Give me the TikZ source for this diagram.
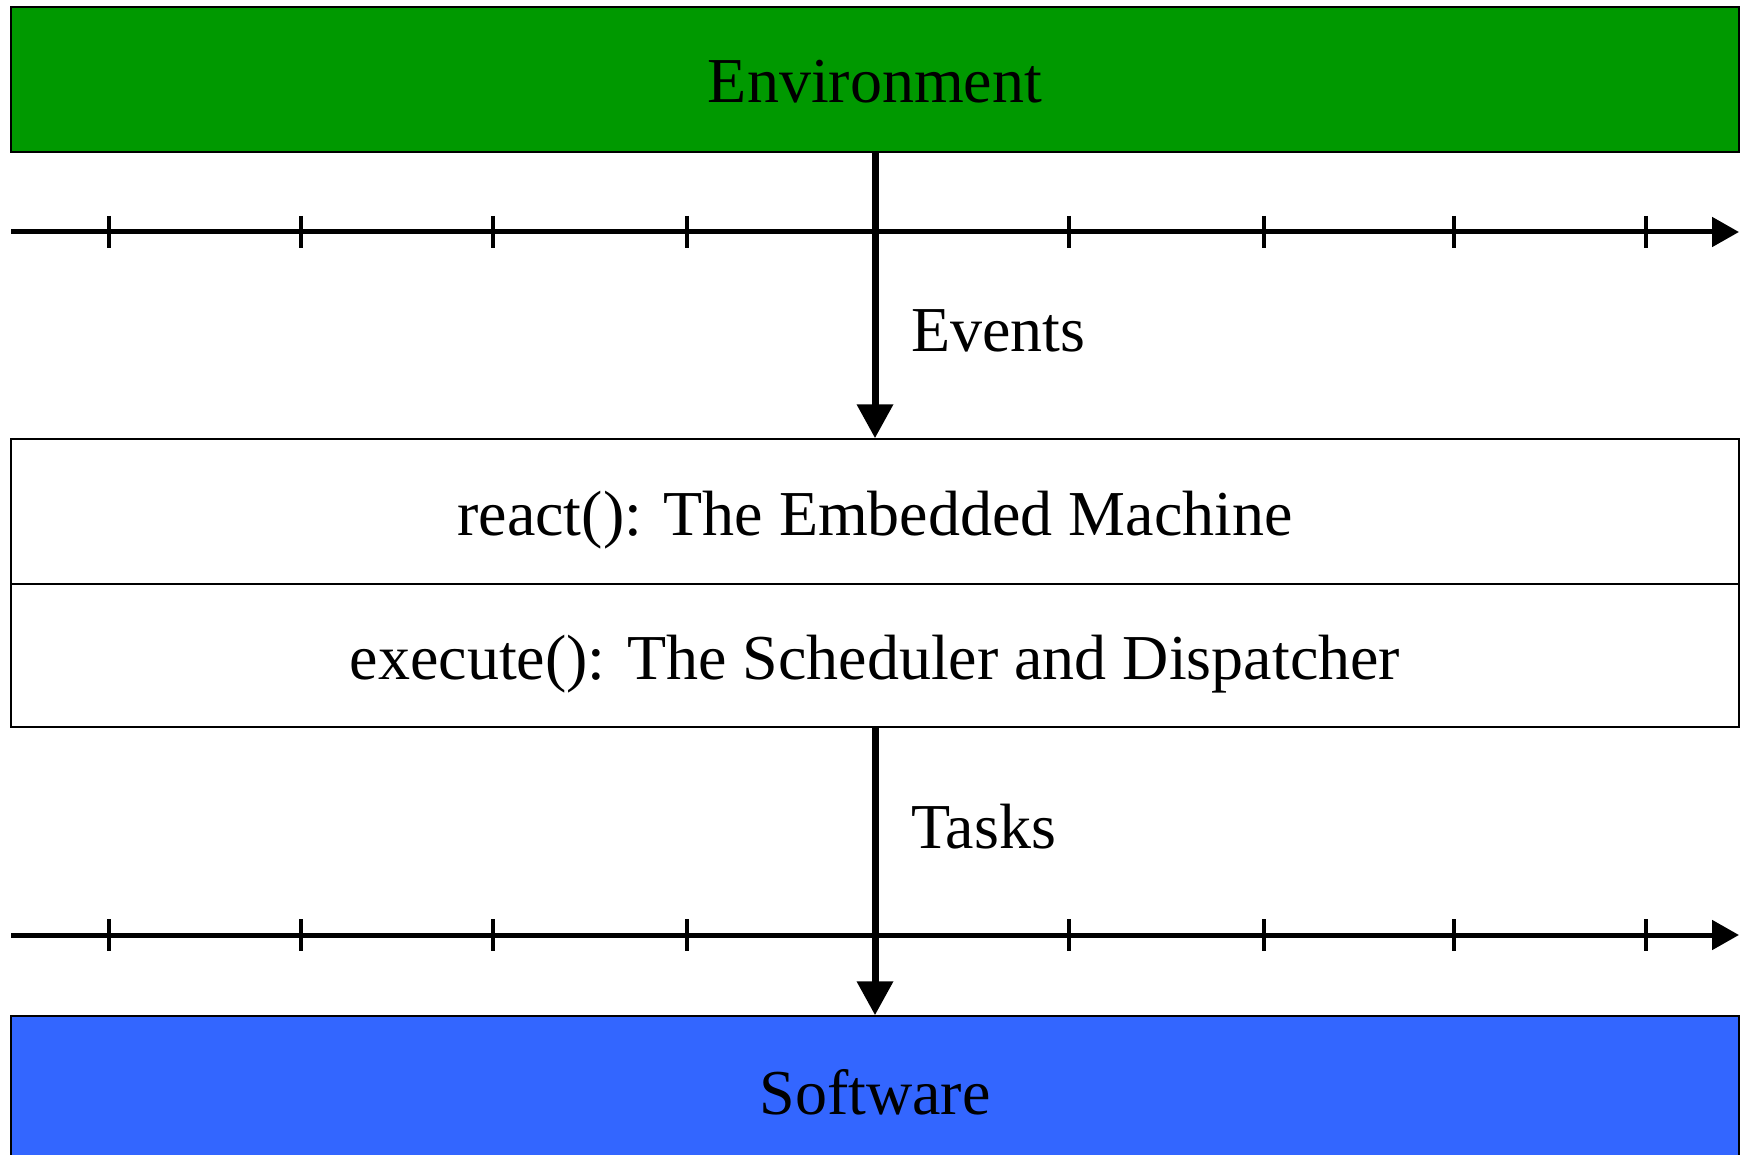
\documentclass[tikz,border=0pt]{standalone}
\usepackage{fontspec}
\setmainfont{Liberation Serif}
\usetikzlibrary{arrows.meta}
\definecolor{envgreen}{HTML}{009900}
\definecolor{swblue}{HTML}{3366FF}
\begin{document}
\begin{tikzpicture}[x=1pt,y=-1pt,
  layer/.style={draw=black,line width=1.5pt,minimum width=1728pt,inner sep=0pt,text height=58pt,text depth=11pt,font=\fontsize{64}{70}\selectfont},
  axisline/.style={line width=5pt,-{Triangle[length=27pt,width=29pt]}},
  tickmark/.style={line width=3.5pt},
  flow/.style={line width=7pt,-{Triangle[length=34pt,width=35pt]}},
  lbl/.style={anchor=west,inner sep=0pt,font=\fontsize{64}{70}\selectfont}]
\useasboundingbox (0,0) rectangle (1740,1155);
\node[layer,fill=envgreen,minimum height=145pt] (env) at (875,79.5) {Environment};
\node[layer,fill=white,minimum height=145pt] (react) at (875,511.5) {react(): The Embedded Machine};
\node[layer,fill=white,minimum height=143pt] (exec) at (875,655.5) {execute(): The Scheduler and Dispatcher};
\node[layer,fill=swblue,minimum height=150pt] (sw) at (875,1091) {Software};
% time axes
\coordinate (a1s) at (11,232); \coordinate (a1e) at (1739,232);
\coordinate (a2s) at (11,935); \coordinate (a2e) at (1739,935);
\draw[axisline] (a1s) -- (a1e);
\draw[axisline] (a2s) -- (a2e);
\foreach \x in {109,301,493,687,877,1069,1264,1454,1646}{
  \draw[tickmark] (\x,216) -- (\x,248);
  \draw[tickmark] (\x,919) -- (\x,951);
}
% flows
\draw[flow] (env.south) -- (react.north);
\draw[flow] (exec.south) -- (sw.north);
\node[lbl] (ev) at (911,331) {Events};
\node[lbl] (tk) at (911,827) {Tasks};
\end{tikzpicture}
\end{document}
